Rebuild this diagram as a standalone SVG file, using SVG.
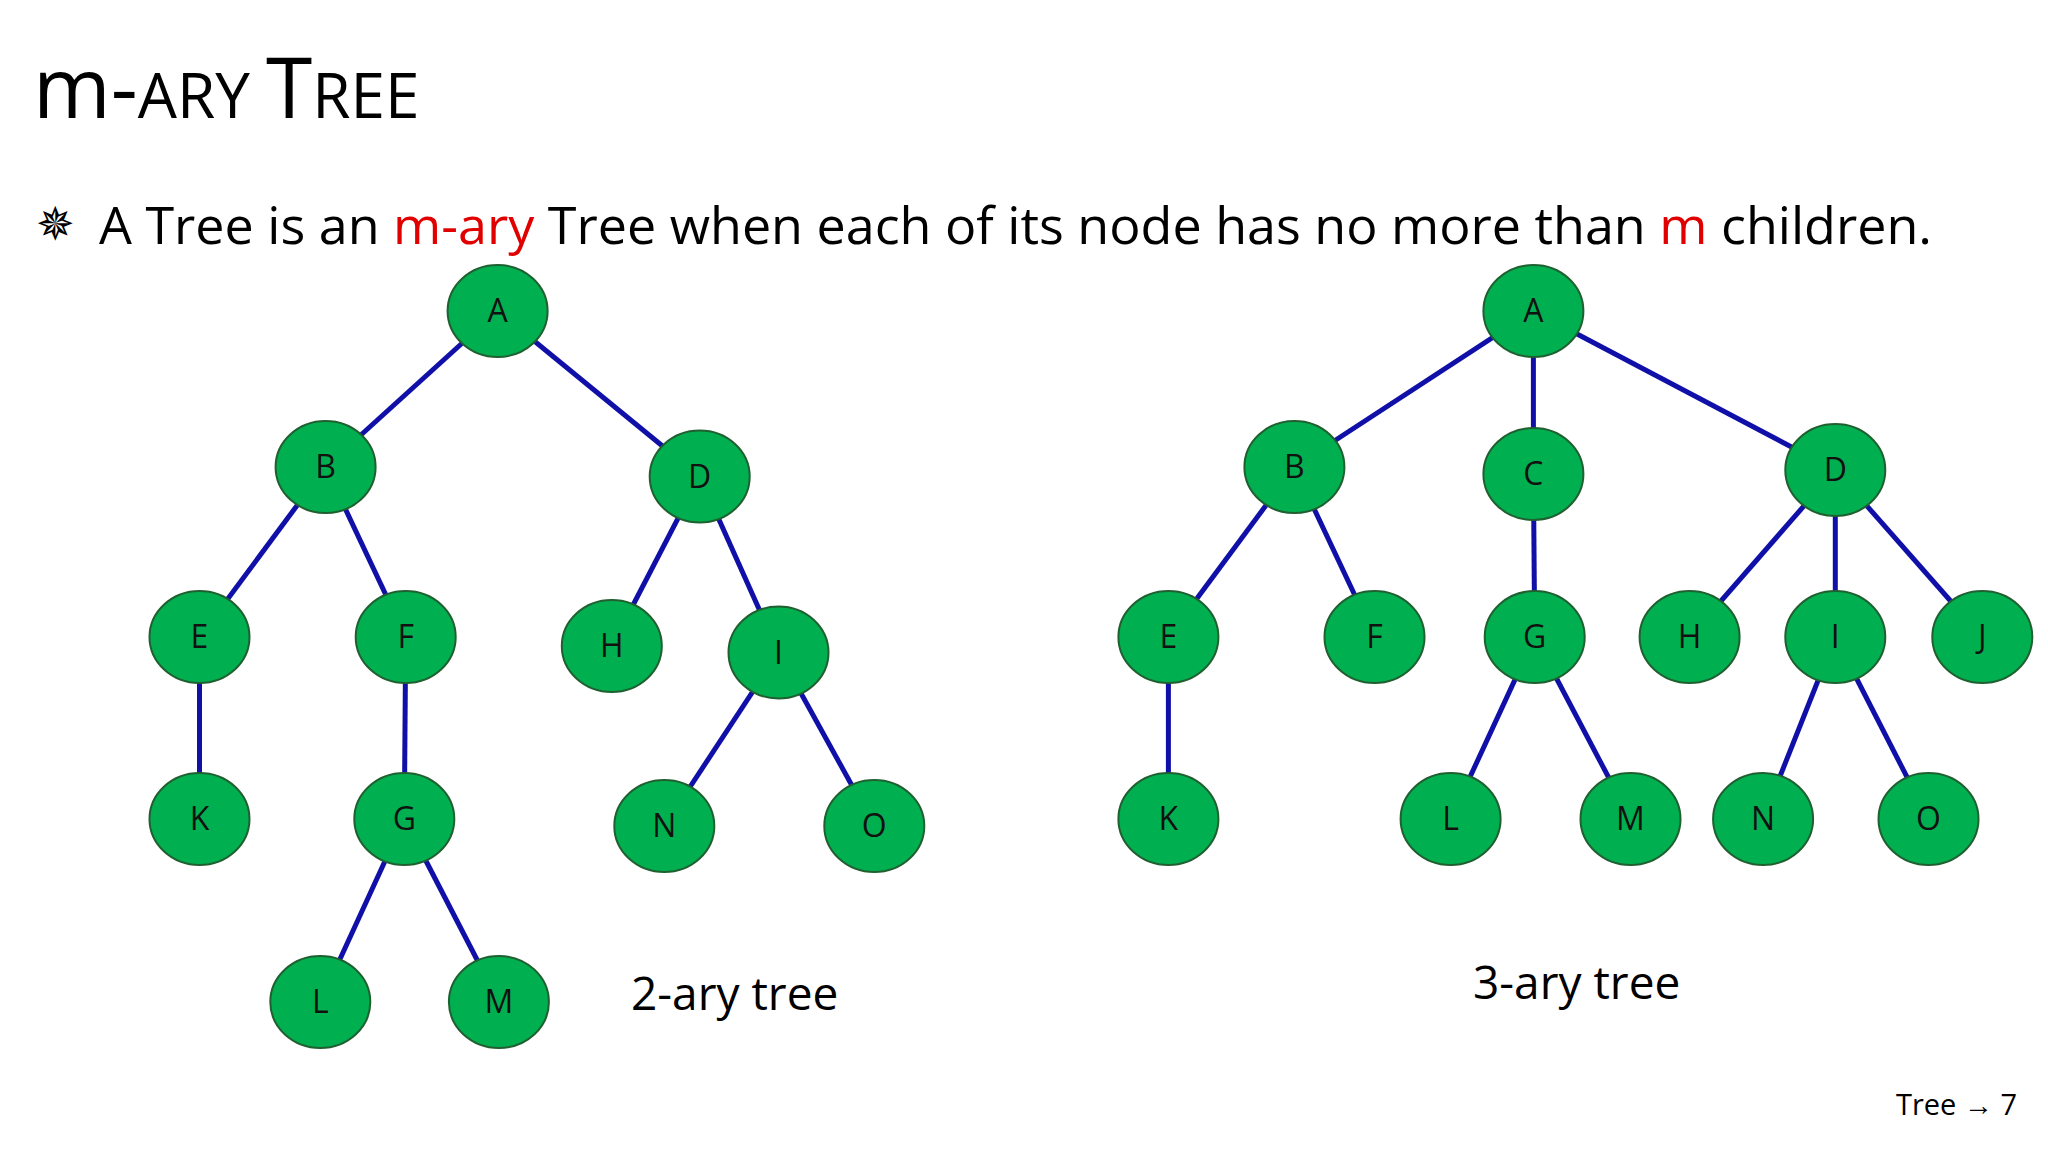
<svg xmlns="http://www.w3.org/2000/svg" width="2048" height="1152" viewBox="0 0 2048 1152">
<style>
.n ellipse{fill:#00B050;stroke:#1F5F30;stroke-width:2}
.n text{font-family:"Open Sans","Liberation Sans",sans-serif;font-size:32px;text-anchor:middle;fill:#111}
#edges line{stroke:#1010A8;stroke-width:5}
.t{font-family:"Open Sans","Liberation Sans",sans-serif;fill:#000}
</style>
<rect width="2048" height="1152" fill="#fff"/>
<text class="t" x="33" y="118" font-size="84">m-<tspan font-size="62">ARY </tspan>T<tspan font-size="62">REE</tspan></text>
<text x="36" y="240" font-family="DejaVu Sans,sans-serif" font-size="46">✵</text>
<text class="t" x="99" y="244" font-size="52" textLength="1833" lengthAdjust="spacingAndGlyphs">A Tree is an <tspan fill="#E00000">m-ary</tspan> Tree when each of its node has no more than <tspan fill="#E00000">m</tspan> children.</text>
<text class="t" x="631" y="1010" font-size="46">2-ary tree</text>
<text class="t" x="1473" y="999" font-size="46">3-ary tree</text>
<text class="t" x="1896" y="1115" font-size="29" fill="#888">Tree → 7</text>
<g id="edges">
<line x1="497.6" y1="311" x2="325.6" y2="467"/><line x1="497.6" y1="311" x2="699.7" y2="476.5"/>
<line x1="325.6" y1="467" x2="199.5" y2="637"/><line x1="325.6" y1="467" x2="405.7" y2="637"/>
<line x1="699.7" y1="476.5" x2="611.8" y2="646"/><line x1="699.7" y1="476.5" x2="778.5" y2="652.5"/>
<line x1="199.5" y1="637" x2="199.5" y2="819"/><line x1="405.7" y1="637" x2="404.3" y2="819"/>
<line x1="778.5" y1="652.5" x2="664.3" y2="826"/><line x1="778.5" y1="652.5" x2="874.3" y2="826"/>
<line x1="404.3" y1="819" x2="320.3" y2="1002"/><line x1="404.3" y1="819" x2="498.9" y2="1002"/>
<line x1="1533.4" y1="311" x2="1294.4" y2="467"/><line x1="1533.4" y1="311" x2="1533.4" y2="474"/><line x1="1533.4" y1="311" x2="1835.3" y2="470"/>
<line x1="1294.4" y1="467" x2="1168.4" y2="637"/><line x1="1294.4" y1="467" x2="1374.5" y2="637"/>
<line x1="1533.4" y1="474" x2="1534.7" y2="637"/>
<line x1="1835.3" y1="470" x2="1689.6" y2="637"/><line x1="1835.3" y1="470" x2="1835.3" y2="637"/><line x1="1835.3" y1="470" x2="1982.3" y2="637"/>
<line x1="1168.4" y1="637" x2="1168.4" y2="819"/>
<line x1="1534.7" y1="637" x2="1450.6" y2="819"/><line x1="1534.7" y1="637" x2="1630.5" y2="819"/>
<line x1="1835.3" y1="637" x2="1763.1" y2="819"/><line x1="1835.3" y1="637" x2="1928.5" y2="819"/>
</g>
<g id="L_A" class="n"><ellipse cx="497.6" cy="311" rx="50" ry="46"/><text x="497.6" y="322">A</text></g>
<g id="L_B" class="n"><ellipse cx="325.6" cy="467" rx="50" ry="46"/><text x="325.6" y="478">B</text></g>
<g id="L_D" class="n"><ellipse cx="699.7" cy="476.5" rx="50" ry="46"/><text x="699.7" y="487.5">D</text></g>
<g id="L_E" class="n"><ellipse cx="199.5" cy="637" rx="50" ry="46"/><text x="199.5" y="648">E</text></g>
<g id="L_F" class="n"><ellipse cx="405.7" cy="637" rx="50" ry="46"/><text x="405.7" y="648">F</text></g>
<g id="L_H" class="n"><ellipse cx="611.8" cy="646" rx="50" ry="46"/><text x="611.8" y="657">H</text></g>
<g id="L_I" class="n"><ellipse cx="778.5" cy="652.5" rx="50" ry="46"/><text x="778.5" y="663.5">I</text></g>
<g id="L_K" class="n"><ellipse cx="199.5" cy="819" rx="50" ry="46"/><text x="199.5" y="830">K</text></g>
<g id="L_G" class="n"><ellipse cx="404.3" cy="819" rx="50" ry="46"/><text x="404.3" y="830">G</text></g>
<g id="L_N" class="n"><ellipse cx="664.3" cy="826" rx="50" ry="46"/><text x="664.3" y="837">N</text></g>
<g id="L_O" class="n"><ellipse cx="874.3" cy="826" rx="50" ry="46"/><text x="874.3" y="837">O</text></g>
<g id="L_L" class="n"><ellipse cx="320.3" cy="1002" rx="50" ry="46"/><text x="320.3" y="1013">L</text></g>
<g id="L_M" class="n"><ellipse cx="498.9" cy="1002" rx="50" ry="46"/><text x="498.9" y="1013">M</text></g>
<g id="R_A" class="n"><ellipse cx="1533.4" cy="311" rx="50" ry="46"/><text x="1533.4" y="322">A</text></g>
<g id="R_B" class="n"><ellipse cx="1294.4" cy="467" rx="50" ry="46"/><text x="1294.4" y="478">B</text></g>
<g id="R_C" class="n"><ellipse cx="1533.4" cy="474" rx="50" ry="46"/><text x="1533.4" y="485">C</text></g>
<g id="R_D" class="n"><ellipse cx="1835.3" cy="470" rx="50" ry="46"/><text x="1835.3" y="481">D</text></g>
<g id="R_E" class="n"><ellipse cx="1168.4" cy="637" rx="50" ry="46"/><text x="1168.4" y="648">E</text></g>
<g id="R_F" class="n"><ellipse cx="1374.5" cy="637" rx="50" ry="46"/><text x="1374.5" y="648">F</text></g>
<g id="R_G" class="n"><ellipse cx="1534.7" cy="637" rx="50" ry="46"/><text x="1534.7" y="648">G</text></g>
<g id="R_H" class="n"><ellipse cx="1689.6" cy="637" rx="50" ry="46"/><text x="1689.6" y="648">H</text></g>
<g id="R_I" class="n"><ellipse cx="1835.3" cy="637" rx="50" ry="46"/><text x="1835.3" y="648">I</text></g>
<g id="R_J" class="n"><ellipse cx="1982.3" cy="637" rx="50" ry="46"/><text x="1982.3" y="648">J</text></g>
<g id="R_K" class="n"><ellipse cx="1168.4" cy="819" rx="50" ry="46"/><text x="1168.4" y="830">K</text></g>
<g id="R_L" class="n"><ellipse cx="1450.6" cy="819" rx="50" ry="46"/><text x="1450.6" y="830">L</text></g>
<g id="R_M" class="n"><ellipse cx="1630.5" cy="819" rx="50" ry="46"/><text x="1630.5" y="830">M</text></g>
<g id="R_N" class="n"><ellipse cx="1763.1" cy="819" rx="50" ry="46"/><text x="1763.1" y="830">N</text></g>
<g id="R_O" class="n"><ellipse cx="1928.5" cy="819" rx="50" ry="46"/><text x="1928.5" y="830">O</text></g>
</svg>
